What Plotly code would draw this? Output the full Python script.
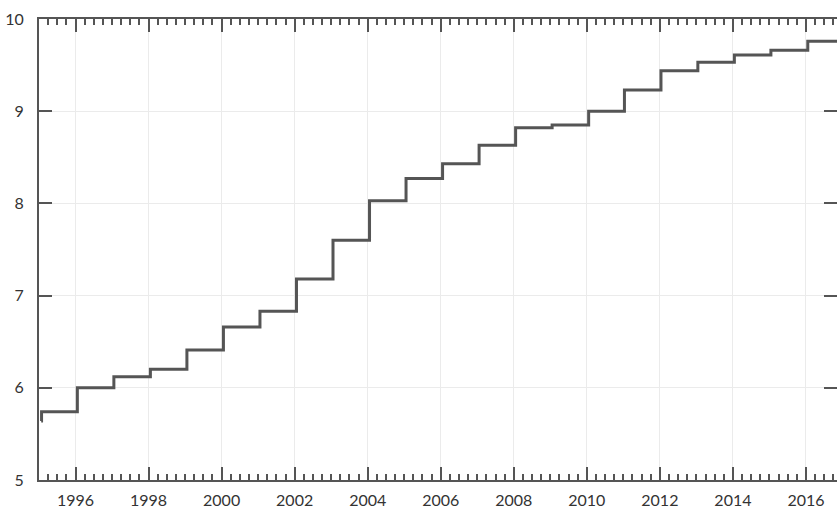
import plotly.graph_objects as go

# Step series: x in fractional years, y values
years = [1995.06, 1995.07, 1996.05, 1997.05, 1998.05, 1999.05, 2000.05, 2001.05,
         2002.05, 2003.05, 2004.05, 2005.05, 2006.05, 2007.05, 2008.05, 2009.05,
         2010.05, 2011.03, 2012.03, 2013.04, 2014.04, 2015.04, 2016.05, 2016.9]
values = [5.64, 5.74, 6.00, 6.12, 6.20, 6.41, 6.66, 6.83,
          7.18, 7.60, 8.03, 8.27, 8.43, 8.63, 8.82, 8.85,
          9.00, 9.23, 9.44, 9.53, 9.61, 9.66, 9.76, 9.76]

x_range = [1995.0, 2016.85]
y_range = [5, 10]

axis_color = "#555555"
grid_color = "#ebebeb"
font = dict(family="Lato, 'Open Sans', sans-serif", size=16, color="#333333")

fig = go.Figure()
fig.add_trace(go.Scatter(
    x=years, y=values, mode="lines",
    line=dict(shape="hv", color="#555555", width=3),
    hoverinfo="skip", showlegend=False,
))

fig.update_layout(
    width=837, height=510,
    margin=dict(l=39, r=0, t=19, b=30, autoexpand=False),
    paper_bgcolor="white", plot_bgcolor="white",
    font=font,
)

fig.update_xaxes(
    range=x_range, tick0=1996, dtick=2, tickformat="d", automargin=False,
    showline=True, linecolor=axis_color, linewidth=2, mirror="allticks",
    ticks="inside", ticklen=13, tickwidth=1.5, tickcolor=axis_color,
    showgrid=True, gridcolor=grid_color, gridwidth=1, zeroline=False,
    minor=dict(dtick=0.25, tick0=1996, ticks="inside", ticklen=6, tickwidth=1.5,
               tickcolor=axis_color, showgrid=False),
    ticklabelstandoff=5,
)
fig.update_yaxes(
    range=y_range, dtick=1, tick0=5, automargin=False,
    showline=True, linecolor=axis_color, linewidth=2, mirror="allticks",
    ticks="inside", ticklen=13, tickwidth=1.5, tickcolor=axis_color,
    showgrid=True, gridcolor=grid_color, gridwidth=1, zeroline=False,
    ticklabelstandoff=10,
)

fig.write_html(
    "out.html",
    config={"displayModeBar": False},
    post_script="document.body.style.margin='0';document.body.style.overflow='hidden';",
)
